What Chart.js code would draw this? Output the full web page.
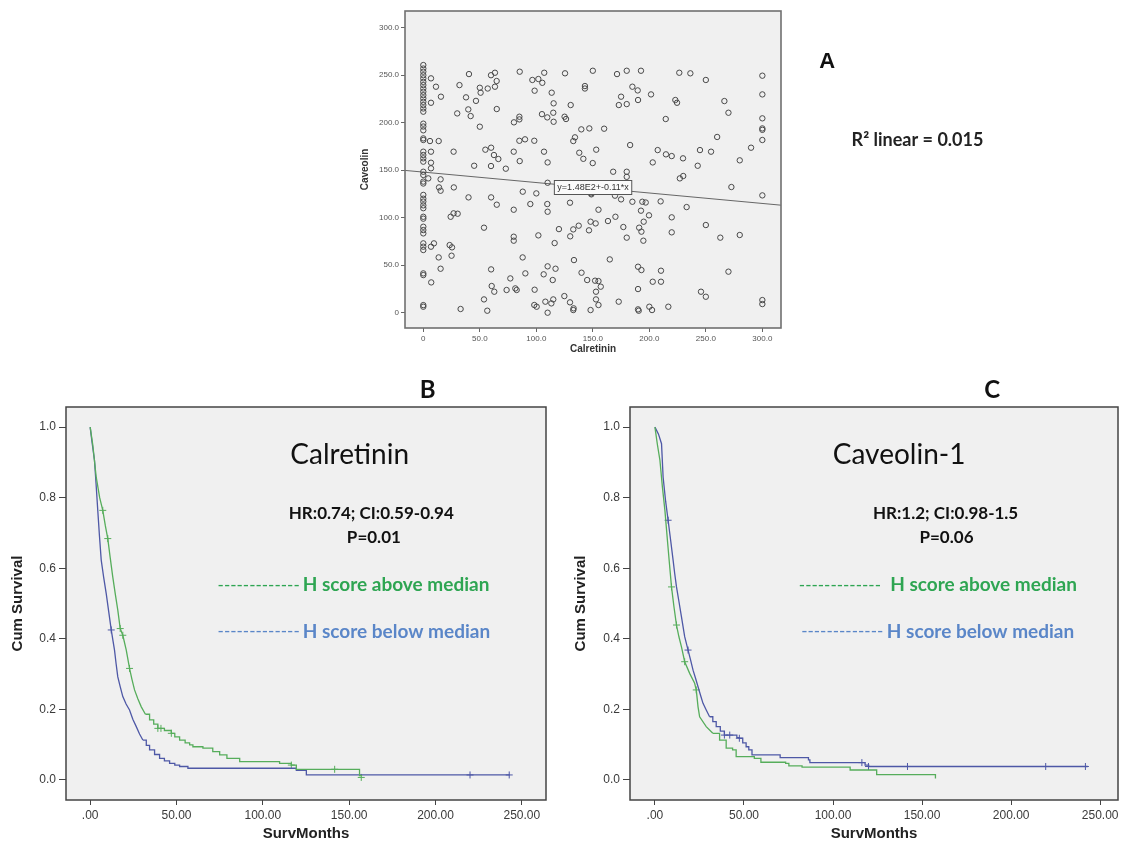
<!DOCTYPE html>
<html>
<head>
<meta charset="utf-8">
<title>Calretinin / Caveolin-1</title>
<script src="https://cdn.jsdelivr.net/npm/chart.js@4.4.1/dist/chart.umd.min.js"></script>
<style>
  body { margin: 0; background: #fff; width: 1123px; height: 843px; position: relative; overflow: hidden; }
  canvas { position: absolute; }
  #scatterChart { left: 340px; top: 0; }
  #calretininChart { left: 0; top: 370px; }
  #caveolinChart { left: 560px; top: 370px; }
</style>
</head>
<body>
<canvas id="scatterChart" width="700" height="360"></canvas>
<canvas id="calretininChart" width="560" height="473"></canvas>
<canvas id="caveolinChart" width="563" height="473"></canvas>
<script>
// ---- axis ticks ----
const scatterTicks = [0, 50, 100, 150, 200, 250, 300];
const scatterTickLabels = ["0", "50.0", "100.0", "150.0", "200.0", "250.0", "300.0"];
const monthTicks = [0, 50, 100, 150, 200, 250];
const monthTickLabels = [".00", "50.00", "100.00", "150.00", "200.00", "250.00"];
const survTicks = [0, 0.2, 0.4, 0.6, 0.8, 1.0];
const survTickLabels = ["0.0", "0.2", "0.4", "0.6", "0.8", "1.0"];

// linear fit: caveolin = 148 - 0.11 * calretinin
const fitIntercept = 148;
const fitSlope = -0.11;

// H scores per case: [calretinin, caveolin]
const hScores = [
  [0,260.7],[0,257],[0,253.7],[0,250],[0,246.7],[0,243],[0,239.6],[0,236],[0,232.6],[0,229],
  [0,225.6],[0,222],[0,218.6],[0,215],[0,211.6],[0,199],[0,196],[0,192],[0,183.5],[0,181.8],
  [0,169.5],[0,166],[0,162.5],[0,159],[0,148.4],[0,145],[0,138],[0,136],[0,124],[0,120],
  [0,117],[0,113],[0,110],[0,101],[0,99],[0,90.5],[0,87],[0,83.5],[0,73],[0,69.5],
  [0,66],[0,41.4],[0,39.6],[0,8],[0,6.3],
  [6.8,246.7],[11.2,237.9],[15.6,227.4],[32,239.6],[37.8,226.7],[40.4,251.2],[46.6,223],[50,236.8],
  [50.7,231.6],[57,236],[59.9,250],[63.4,252.6],[63.4,237.9],[64.9,243.9],[85.3,253.7],[96.5,245],
  [98.5,233.7],[101.8,246],[105.3,242],[107,252.6],[113.6,231.6],[115.3,220.4],[125.4,252],
  [130.4,218.6],[143,238.6],[143,236],[150,254.7],[171.4,251.2],[175,227.4],[173,218.6],[180,254.7],
  [180,219.6],[185,237.9],[189.7,234],[190,223.9],[192.6,254.7],[201.5,229.8],[223,223.9],
  [224.5,221],[226.5,252.6],[236.3,252],[250,245],[266.4,222.8],[270,210.5],[300,249.5],
  [300,229.8],[6.8,221],
  [30,209.8],[39.8,214],[41.9,207],[65,214.4],[50,195.8],[80.2,200.4],[85,206.3],[85,203.5],
  [105,209],[109.7,205.6],[115,210.5],[115.3,201],[125,206.3],[126.3,203.9],[139.8,193],
  [146.9,194],[160,193.7],[134.2,184.6],[132.7,180.7],[183,176.5],[214.5,203.9],[260,185],
  [300,204.6],[300,194],[300,192.5],[300,181.8],[290,173.7],[280,160.4],[254.6,169.5],[244.8,171.2],
  [242.8,154.7],[229.8,162.5],[219.8,164.9],[214.7,166.7],[207.4,171.2],[203,158.2],[153,171.6],
  [141.6,162],[138,168.4],[149.9,157.5],[110,158.2],[106.8,169.5],[98.2,181],[90,182.5],[85,181],
  [85.3,159.6],[80,169.5],[73,151.6],[66.4,161.8],[62.5,166],[60,173.7],[54.9,171.6],[59.9,154.4],
  [45,154.7],[26.8,169.5],[13.6,180.7],[5.9,180.7],[6.8,169.5],[6.8,157.9],[6.8,152],
  [4.4,141.4],[15.3,140.4],[13.9,131.9],[15.3,128.4],[27,131.9],[40,121.4],[60,121.4],[65,113.7],
  [88,127.4],[100,125.6],[94.7,114.4],[109.7,114.4],[110,106.3],[80,108.4],[129.8,115.8],
  [148.7,124.6],[148.4,125.6],[110,136.8],[168,148.4],[180,148.4],[180,143],[169.6,123.2],[175,119.3],
  [185,116.8],[193.8,116.8],[196.8,116],[192.6,107.4],[199.7,102.5],[210,117.2],[219.8,100.4],
  [233,111.2],[272.6,132.3],[300,123.5],[230,143.9],[227,141.4],[155,108.4],[148,95.8],[152.5,94],
  [146.6,86.7],[137.5,91.6],[132.7,87.7],[130,80.4],[120,88],[101.8,81.4],[80,80],[80,75.8],
  [53.7,89.5],[24.2,101],[26.8,104.6],[30.4,104.2],[163.4,96.5],[170,101],[177,90.2],[180,79],
  [191,89.5],[193,85.3],[195,95.8],[219.8,84.6],[250,92.3],[262.8,79],[280,81.8],[194.7,75.8],
  [116.2,73.3],[270,43.2],
  [9.4,73],[6.8,69.5],[23.3,71.2],[25.4,68.8],[25,60],[13.6,58.2],[15.3,46.3],[7,31.9],[60,45.6],
  [60.5,28.1],[62.8,22.1],[53.7,14],[77,36.1],[73.7,23.9],[81.4,25.6],[82.6,23.9],[87.9,58.2],
  [90.3,41.4],[98.5,24.2],[106.5,40.4],[110,48.8],[114.5,34.4],[117,46.3],[115,14],[113.3,9.8],
  [108,11.6],[124.8,17.5],[129.8,10.9],[133.3,55.4],[140,42.1],[145,34.4],[152,33.7],[155,33.3],
  [157,27.4],[152.8,22.1],[152.8,14],[155,8.1],[165,56.1],[172.9,11.6],[190,48.4],[193,44.9],
  [210.3,44.2],[203,32.6],[210.3,32.6],[190,24.9],[98.2,8.1],[100.3,6.3],[110,0],[132.7,2.8],
  [133,4.6],[148,2.8],[190,3.5],[190.6,2.1],[200,6.3],[202.4,2.8],[216.8,6.3],[245.7,22.1],
  [250,16.8],[300,13.3],[300,9.1],[33,3.9],[56.6,2.1]
];

// Kaplan-Meier steps: [months, cumulative survival]
const calretininAbove = [
  [0,1],[1.5,0.95],[3.5,0.858],[5.5,0.8],[7.3,0.764],[8.8,0.72],[10.2,0.684],[11.6,0.63],
  [13.1,0.575],[14.6,0.525],[16,0.481],[17.4,0.429],[18.9,0.41],[20.9,0.368],[22.8,0.316],
  [24.2,0.285],[25.7,0.255],[27.6,0.23],[29.6,0.207],[32,0.186],[34.4,0.17],[36.8,0.158],
  [39.2,0.146],[43,0.14],[47,0.132],[49,0.122],[51.8,0.113],[55,0.105],[57.6,0.099],[59.5,0.094],
  [65.3,0.09],[71,0.08],[75,0.071],[79.2,0.061],[86.6,0.052],[109.7,0.047],[116.5,0.042],
  [119.4,0.03],[156,0.012],[157.5,0.012]
];
const calretininBelow = [
  [0,1],[1,0.96],[2.5,0.906],[3.4,0.84],[4.4,0.764],[5.4,0.69],[6.4,0.623],[7.8,0.575],[9.3,0.528],
  [10.8,0.475],[12.2,0.425],[13.2,0.395],[14.1,0.368],[15,0.33],[16,0.292],[17.5,0.262],[18.9,0.236],
  [20.8,0.215],[22.8,0.198],[24.7,0.172],[26.7,0.151],[28.6,0.13],[30.5,0.113],[32.5,0.098],
  [34.4,0.085],[37.3,0.072],[40.2,0.061],[43,0.054],[46,0.047],[49,0.042],[51.8,0.038],[56.6,0.033],
  [119.4,0.027],[125.2,0.014],[243,0.014]
];
const calretininAboveCensored = [
  [7.3,0.764],[10.2,0.684],[17.4,0.429],[18.9,0.41],[22.8,0.316],[39.2,0.146],[41,0.146],[47,0.132],
  [116.5,0.042],[141.6,0.03],[157,0.007]
];
const calretininBelowCensored = [[12.2,0.425],[220,0.014],[242.7,0.014]];

const caveolinAbove = [
  [0,1],[1.4,0.95],[2.8,0.906],[4.2,0.83],[5.6,0.764],[7,0.68],[8.2,0.61],[9.3,0.547],[10.7,0.49],
  [12.1,0.439],[13.5,0.405],[14.9,0.377],[16.7,0.335],[19.5,0.302],[22.3,0.274],[23.2,0.255],
  [24.2,0.207],[25.1,0.179],[28.8,0.151],[32.5,0.132],[36.3,0.113],[40,0.09],[43.6,0.085],
  [45.6,0.066],[55.8,0.061],[59.5,0.05],[73.4,0.047],[75.2,0.04],[82.6,0.036],[109.6,0.028],
  [124.5,0.015],[157.5,0.004]
];
const caveolinBelow = [
  [0,1],[2,0.98],[3.7,0.953],[4.6,0.858],[6,0.79],[7.4,0.736],[8.8,0.68],[10.2,0.623],[11.1,0.585],
  [12.1,0.547],[13.5,0.505],[14.9,0.462],[16.7,0.406],[18.6,0.368],[20,0.34],[21.4,0.311],
  [22.8,0.288],[24.2,0.264],[25.6,0.24],[27,0.217],[28.8,0.198],[30.7,0.179],[32.5,0.165],
  [34.4,0.151],[36.7,0.138],[39,0.127],[46,0.12],[47.4,0.118],[49.3,0.105],[51.2,0.094],
  [52.7,0.085],[54.5,0.071],[70.3,0.063],[86.2,0.057],[87,0.049],[118,0.042],[120,0.038],[243,0.038]
];
const caveolinAboveCensored = [[9.3,0.547],[12.1,0.439],[16.7,0.335],[23.2,0.255]];
const caveolinBelowCensored = [
  [7.4,0.736],[18.6,0.368],[39,0.127],[42,0.127],[47.4,0.118],[116.2,0.049],[119.9,0.038],
  [141.8,0.038],[219.4,0.038],[241.7,0.038]
];

// ---- colours / fonts ----
const GREEN_LINE = "#56ad5b";
const BLUE_LINE = "#4e58a6";
const GREEN_TEXT = "#2ea552";
const BLUE_TEXT = "#5a86c8";
const PLOT_BG = "#f0f0f0";
const SANS = '"Liberation Sans", Arial, sans-serif';
const NOTE = 'Lato, "Open Sans", sans-serif';

// steep early drop is drawn as a plain polyline, the sparse tail as steps
const STEP_FROM = 30;

const toPoints = arr => arr.map(([x, y]) => ({ x, y }));

// grey plot area plus a frame around it
const plotFrame = {
  id: "plotFrame",
  beforeDraw(chart, args, opts) {
    const { ctx, chartArea: a } = chart;
    ctx.save();
    ctx.fillStyle = opts.fill;
    ctx.fillRect(a.left, a.top, a.width, a.height);
    ctx.restore();
  },
  afterDatasetsDraw(chart, args, opts) {
    const { ctx, chartArea: a } = chart;
    ctx.save();
    ctx.strokeStyle = opts.stroke;
    ctx.lineWidth = opts.width;
    ctx.strokeRect(a.left, a.top, a.width, a.height);
    ctx.restore();
  }
};

// free text placed in data coordinates
const notes = {
  id: "notes",
  afterDraw(chart, args, opts) {
    const { ctx, scales } = chart;
    ctx.save();
    opts.items.forEach(n => {
      const px = scales.x.getPixelForValue(n.x);
      const py = scales.y.getPixelForValue(n.y);
      ctx.font = n.font;
      ctx.textAlign = n.align || "center";
      ctx.textBaseline = "middle";
      if (n.box) {
        const w = ctx.measureText(n.text).width + 6;
        const h = 14;
        ctx.fillStyle = "#fafafa";
        ctx.fillRect(px - w / 2, py - h / 2, w, h);
        ctx.strokeStyle = "#555";
        ctx.lineWidth = 1;
        ctx.strokeRect(px - w / 2, py - h / 2, w, h);
      }
      ctx.fillStyle = n.color || "#111";
      ctx.fillText(n.text, px, py);
    });
    ctx.restore();
  }
};

function fixedAxis(values, labels, extra) {
  return Object.assign({
    type: "linear",
    afterBuildTicks: s => { s.ticks = values.map(v => ({ value: v })); },
    ticks: { callback: (v, i) => labels[i], autoSkip: false, maxRotation: 0 },
    border: { display: false }
  }, extra);
}

// ---- scatter ----
const sxMin = -16.2, sxMax = 316.5;

new Chart(document.getElementById("scatterChart"), {
  type: "scatter",
  data: {
    datasets: [
      {
        data: toPoints(hScores),
        pointStyle: "circle",
        pointRadius: 2.7,
        backgroundColor: "rgba(0,0,0,0)",
        borderColor: "#4a4a4a",
        borderWidth: 1
      },
      {
        data: [
          { x: sxMin, y: fitIntercept + fitSlope * sxMin },
          { x: sxMax, y: fitIntercept + fitSlope * sxMax }
        ],
        showLine: true,
        pointRadius: 0,
        borderColor: "#666",
        borderWidth: 1
      }
    ]
  },
  options: {
    responsive: false,
    animation: false,
    layout: { padding: { top: 11, right: 259, left: 0, bottom: 0 } },
    plugins: {
      legend: { display: false },
      tooltip: { enabled: false },
      plotFrame: { fill: PLOT_BG, stroke: "#707070", width: 1.6 },
      notes: {
        items: [
          { x: 150.2, y: 131.8, text: "y=1.48E2+-0.11*x", font: "9px " + SANS, color: "#333", box: true },
          { x: 357.3, y: 263.9, text: "A", font: "bold 22px " + SANS, color: "#111" },
          { x: 437.3, y: 181.8, text: "R² linear = 0.015", font: "bold 18px " + NOTE, color: "#222" }
        ]
      }
    },
    scales: {
      x: fixedAxis(scatterTicks, scatterTickLabels, {
        min: sxMin, max: sxMax,
        afterFit: s => { s.height = 32; },
        grid: { drawOnChartArea: false, color: "#666", tickLength: 4 },
        ticks: { callback: (v, i) => scatterTickLabels[i], autoSkip: false, maxRotation: 0,
                 font: { family: SANS, size: 8 }, color: "#555", padding: 2 },
        title: { display: true, text: "Calretinin", font: { family: SANS, size: 10, weight: "bold" },
                 color: "#333", padding: { top: 0, bottom: 5 } }
      }),
      y: fixedAxis(scatterTicks, scatterTickLabels, {
        min: -16.1, max: 317.6,
        afterFit: s => { s.width = 65; },
        grid: { drawOnChartArea: false, color: "#666", tickLength: 4 },
        ticks: { callback: (v, i) => scatterTickLabels[i], autoSkip: false,
                 font: { family: SANS, size: 8 }, color: "#555", padding: 2 },
        title: { display: true, text: "Caveolin", font: { family: SANS, size: 10, weight: "bold" },
                 color: "#333", padding: { top: 19, bottom: 0 } }
      })
    }
  },
  plugins: [plotFrame, notes]
});

// ---- survival curves ----
function survivalChart(id, o) {
  const curve = (arr, color) => {
    const k = arr.findIndex(p => p[0] >= STEP_FROM);
    const line = { borderColor: color, borderWidth: 1.3, pointRadius: 0, fill: false };
    return [
      Object.assign({ data: toPoints(arr.slice(0, k + 1)), stepped: false }, line),
      Object.assign({ data: toPoints(arr.slice(k)), stepped: "before" }, line)
    ];
  };
  const marks = (arr, color) => ({
    data: toPoints(arr), showLine: false, pointStyle: "cross", pointRadius: 3.5,
    borderColor: color, borderWidth: 1
  });
  return new Chart(document.getElementById(id), {
    type: "line",
    data: {
      datasets: [
        ...curve(o.above, GREEN_LINE),
        ...curve(o.below, BLUE_LINE),
        marks(o.aboveCensored, GREEN_LINE),
        marks(o.belowCensored, BLUE_LINE)
      ]
    },
    options: {
      responsive: false,
      animation: false,
      layout: { padding: { top: 37, right: o.padRight, left: 0, bottom: 0 } },
      plugins: {
        legend: { display: false },
        tooltip: { enabled: false },
        plotFrame: { fill: PLOT_BG, stroke: "#444", width: 1.5 },
        notes: { items: o.notes }
      },
      scales: {
        x: fixedAxis(monthTicks, monthTickLabels, {
          min: -14, max: o.xMax,
          afterFit: s => { s.height = 43; },
          grid: { drawOnChartArea: false, color: "#444", tickLength: 5 },
          ticks: { callback: (v, i) => monthTickLabels[i], autoSkip: false, maxRotation: 0,
                   font: { family: SANS, size: 12 }, color: "#3a3a3a", padding: 3 },
          title: { display: true, text: "SurvMonths", font: { family: SANS, size: 15, weight: "bold" },
                   color: "#222", padding: { top: 0, bottom: 0 } }
        }),
        y: fixedAxis(survTicks, survTickLabels, {
          min: -0.057, max: 1.057,
          afterFit: s => { s.width = o.axisWidth; },
          grid: { drawOnChartArea: false, color: "#444", tickLength: 7 },
          ticks: { callback: (v, i) => survTickLabels[i], autoSkip: false,
                   font: { family: SANS, size: 12 }, color: "#3a3a3a", padding: 3 },
          title: { display: true, text: "Cum Survival", font: { family: SANS, size: 15, weight: "bold" },
                   color: "#222", padding: { top: o.titlePad, bottom: 0 } }
        })
      }
    },
    plugins: [plotFrame, notes]
  });
}

const DASHES = "-------------";

survivalChart("calretininChart", {
  above: calretininAbove, below: calretininBelow,
  aboveCensored: calretininAboveCensored, belowCensored: calretininBelowCensored,
  xMax: 264, padRight: 14, axisWidth: 66, titlePad: 9,
  notes: [
    { x: 195.5, y: 1.104, text: "B", font: "bold 24px " + NOTE },
    { x: 150.3, y: 0.92, text: "Calretinin", font: "28px " + NOTE },
    { x: 162.8, y: 0.756, text: "HR:0.74; CI:0.59-0.94", font: "bold 17px " + NOTE },
    { x: 164.3, y: 0.688, text: "P=0.01", font: "bold 17px " + NOTE },
    { x: 73.8, y: 0.552, text: DASHES, font: "17px " + NOTE, color: GREEN_TEXT, align: "left" },
    { x: 123.1, y: 0.552, text: "H score above median", font: "bold 19px " + NOTE, color: GREEN_TEXT, align: "left" },
    { x: 73.8, y: 0.42, text: DASHES, font: "17px " + NOTE, color: BLUE_TEXT, align: "left" },
    { x: 123.1, y: 0.42, text: "H score below median", font: "bold 19px " + NOTE, color: BLUE_TEXT, align: "left" }
  ]
});

survivalChart("caveolinChart", {
  above: caveolinAbove, below: caveolinBelow,
  aboveCensored: caveolinAboveCensored, belowCensored: caveolinBelowCensored,
  xMax: 260, padRight: 2, axisWidth: 70, titlePad: 12,
  notes: [
    { x: 189.3, y: 1.104, text: "C", font: "bold 24px " + NOTE },
    { x: 137.1, y: 0.92, text: "Caveolin-1", font: "28px " + NOTE },
    { x: 163.2, y: 0.756, text: "HR:1.2; CI:0.98-1.5", font: "bold 17px " + NOTE },
    { x: 163.7, y: 0.688, text: "P=0.06", font: "bold 17px " + NOTE },
    { x: 80.8, y: 0.552, text: DASHES, font: "17px " + NOTE, color: GREEN_TEXT, align: "left" },
    { x: 132.1, y: 0.552, text: "H score above median", font: "bold 19px " + NOTE, color: GREEN_TEXT, align: "left" },
    { x: 82.1, y: 0.42, text: DASHES, font: "17px " + NOTE, color: BLUE_TEXT, align: "left" },
    { x: 130.2, y: 0.42, text: "H score below median", font: "bold 19px " + NOTE, color: BLUE_TEXT, align: "left" }
  ]
});
</script>
</body>
</html>
